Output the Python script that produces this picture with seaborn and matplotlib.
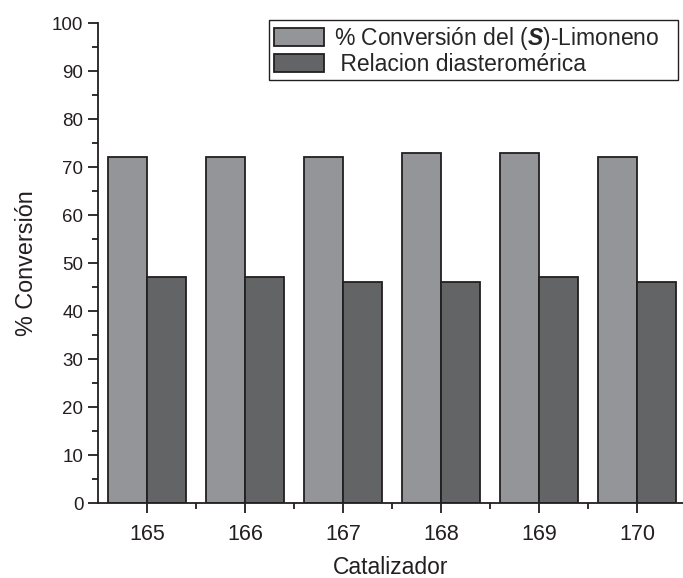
import numpy as np
import pandas as pd
import matplotlib
matplotlib.use("Agg")
import matplotlib.pyplot as plt
import seaborn as sns
from matplotlib.ticker import MultipleLocator, FixedLocator

catalysts = ["165", "166", "167", "168", "169", "170"]
conversion = [72, 72, 72, 73, 73, 72]
diastereo = [47, 47, 46, 46, 47, 46]
series_names = [r"% Conversión del ($\mathbfit{S}$)-Limoneno", " Relacion diasteromérica"]
colors = ["#939598", "#636466"]
y_ticks = [0, 10, 20, 30, 40, 50, 60, 70, 80, 90, 100]

df = pd.DataFrame({
    "Catalizador": catalysts * 2,
    "valor": conversion + diastereo,
    "serie": [series_names[0]] * len(catalysts) + [series_names[1]] * len(catalysts),
})

sns.set_theme(style="ticks")
plt.rcParams["font.family"] = ["Liberation Sans", "DejaVu Sans"]
plt.rcParams["mathtext.fontset"] = "custom"
plt.rcParams["mathtext.bfit"] = "Liberation Sans:bold:italic"

fig = plt.figure(figsize=(6.83, 5.78), dpi=100)
ax = fig.add_axes([98 / 683, 1 - 503 / 578, 1 - 98 / 683, (503 - 23) / 578])

sns.barplot(data=df, x="Catalizador", y="valor", hue="serie", order=catalysts,
            hue_order=series_names, palette=colors, saturation=1, width=0.805,
            edgecolor="#231f20", linewidth=1.3, ax=ax)

ax.set_xlim(-0.5, 5.47)
ax.set_ylim(0, 100)
ax.set_yticks(y_ticks)
ax.yaxis.set_minor_locator(MultipleLocator(5))
ax.xaxis.set_minor_locator(FixedLocator(np.arange(0.5, len(catalysts) - 0.5, 1.0)))

for side in ["top", "right"]:
    ax.spines[side].set_visible(False)
for side in ["left", "bottom"]:
    ax.spines[side].set_linewidth(1.3)
    ax.spines[side].set_color("#231f20")

ax.tick_params(axis="both", which="major", direction="out", length=7, width=1.3,
               color="#231f20", labelcolor="#231f20")
ax.tick_params(axis="y", which="major", labelsize=13.5)
ax.tick_params(axis="x", which="major", labelsize=15.5, pad=8)
ax.tick_params(axis="both", which="minor", direction="out", length=4, width=1.3,
               color="#231f20")

ax.set_xlabel("Catalizador", fontsize=16.5, color="#231f20", labelpad=8)
ax.set_ylabel("% Conversión", fontsize=16.8, color="#231f20", labelpad=10)

handles, labels = ax.get_legend_handles_labels()
x0, x1 = 269 / 683, 678 / 683
ax.legend(handles, labels, loc="upper left",
          bbox_to_anchor=(x0, 1 - 20 / 578, x1 - x0, 0.0),
          bbox_transform=fig.transFigure, mode="expand", borderaxespad=0, fontsize=16.5,
          frameon=True, fancybox=False, edgecolor="#231f20", framealpha=1,
          handlelength=2.2, handleheight=0.85, labelspacing=0.05, handletextpad=0.45,
          borderpad=0.2)
ax.get_legend().get_frame().set_linewidth(1.0)

fig.savefig("out.png", dpi=100)
